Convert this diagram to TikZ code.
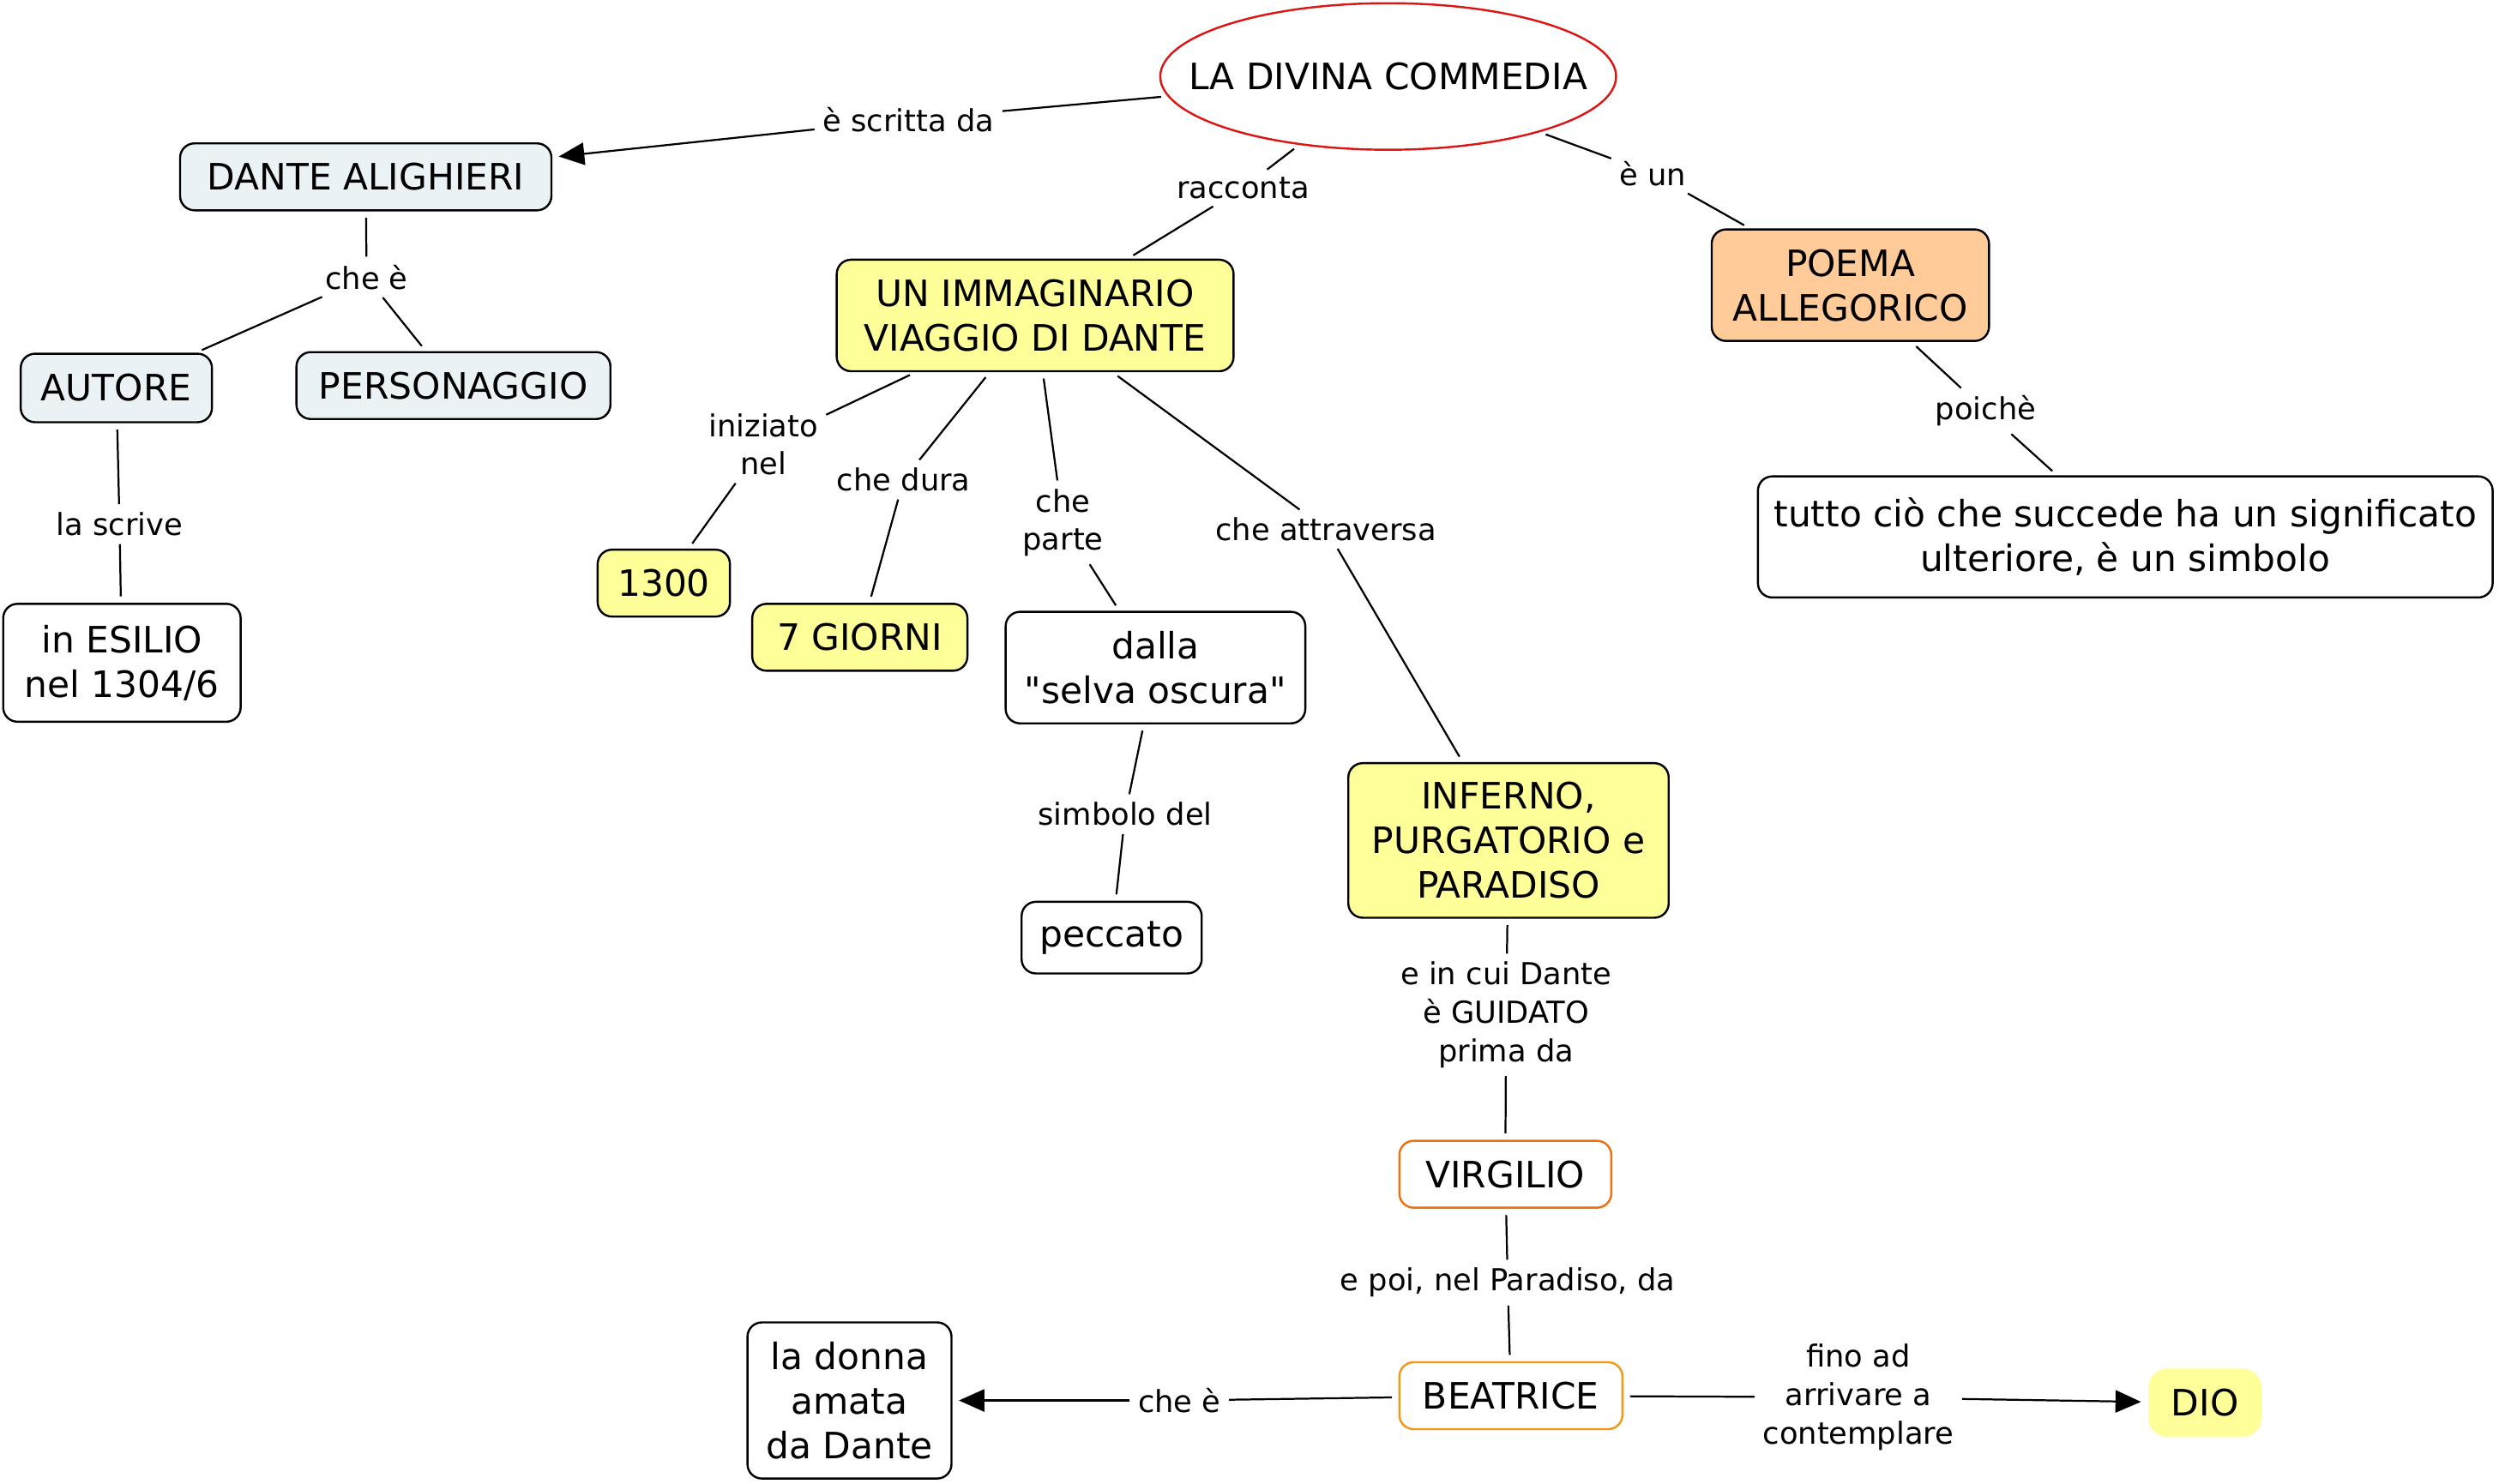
\documentclass[tikz,border=0pt]{standalone}
\usepackage{fontspec}
\setmainfont{DejaVu Sans}[Ligatures=TeXOff]
\usetikzlibrary{shapes.geometric,arrows.meta}
\definecolor{bluish}{RGB}{235,242,245}
\definecolor{yel}{RGB}{255,255,153}
\definecolor{peach}{RGB}{255,204,153}
\definecolor{orA}{RGB}{240,112,16}
\definecolor{orB}{RGB}{245,150,20}
\definecolor{redE}{RGB}{220,20,20}
\begin{document}
\begin{tikzpicture}[x=1pt,y=-1pt,
 box/.style={draw=black, line width=1.3pt, rounded corners=9pt, align=center, inner sep=0pt, font=\fontsize{22.8}{28}\selectfont},
 lbl/.style={align=center, inner sep=4pt, font=\fontsize{19}{24}\selectfont},
 n2l/.style={line width=1.2pt, shorten <=4pt, shorten >=1pt},
 l2n/.style={line width=1.2pt, shorten <=1pt, shorten >=4pt},
 arr/.style={l2n, -{Triangle[length=16pt,width=14pt]}},
]
\useasboundingbox (0,0) rectangle (1568,931);
% concepts
\node[ellipse, draw=redE, line width=1.3pt, minimum width=286pt, minimum height=92pt, inner sep=0pt, font=\fontsize{22.8}{28}\selectfont] (ldc) at (871,48) {\makebox[200pt][c]{LA DIVINA COMMEDIA}};
\node[box, fill=bluish, minimum width=233pt, minimum height=42pt] (dante) at (229.5,111) {DANTE ALIGHIERI};
\node[box, fill=bluish, minimum width=120pt, minimum height=43pt] (autore) at (73,243.5) {AUTORE};
\node[box, fill=bluish, minimum width=197pt, minimum height=42pt] (pers) at (284.5,242) {PERSONAGGIO};
\node[box, fill=white, minimum width=149pt, minimum height=74pt] (esilio) at (76.5,416) {in ESILIO\\nel 1304/6};
\node[box, fill=yel, minimum width=249pt, minimum height=70pt] (viaggio) at (649.5,198) {UN IMMAGINARIO\\VIAGGIO DI DANTE};
\node[box, fill=yel, minimum width=83pt, minimum height=42pt] (anno) at (416.5,366) {1300};
\node[box, fill=yel, minimum width=135pt, minimum height=42pt] (giorni) at (539.5,400) {7 GIORNI};
\node[box, fill=white, minimum width=188pt, minimum height=70pt] (selva) at (725,419) {dalla\\"selva oscura"};
\node[box, fill=white, minimum width=113pt, minimum height=45pt] (peccato) at (697.5,588.5) {peccato};
\node[box, fill=yel, minimum width=201pt, minimum height=97pt] (inferno) at (946.5,527.5) {INFERNO,\\PURGATORIO e\\PARADISO};
\node[box, draw=orA, fill=white, minimum width=133pt, minimum height=42pt] (virgilio) at (944.5,737) {VIRGILIO};
\node[box, draw=orB, fill=white, minimum width=140pt, minimum height=42pt] (beatrice) at (948,876) {BEATRICE};
\node[box, fill=white, minimum width=128pt, minimum height=98pt] (donna) at (533,879) {la donna\\amata\\da Dante};
\node[box, draw=none, fill=yel, rounded corners=12pt, minimum width=71pt, minimum height=43pt] (dio) at (1383.5,880.5) {DIO};
\node[box, fill=peach, minimum width=174pt, minimum height=70pt] (poema) at (1161,179) {POEMA\\ALLEGORICO};
\node[box, fill=white, minimum width=461pt, minimum height=76pt] (tutto) at (1333.5,337) {tutto ciò che succede ha un significato\\ulteriore, è un simbolo};
% linking phrases
\node[lbl] (scritta) at (570,75) {è scritta da};
\node[lbl] (cheA) at (230,174) {che è};
\node[lbl] (scrive) at (75,329) {la scrive};
\node[lbl] (racconta) at (780,118) {racconta};
\node[lbl] (eun) at (1037,109) {è un};
\node[lbl] (poiche) at (1246,258) {poichè};
\node[lbl] (iniziato) at (479,279) {iniziato\\nel};
\node[lbl] (dura) at (567,301) {che dura};
\node[lbl] (parte) at (667,328) {che\\parte};
\node[lbl] (attraversa) at (832,332) {che attraversa};
\node[lbl] (simbolo) at (706,511) {simbolo del};
\node[lbl] (guidato) at (945,637) {e in cui Dante\\è GUIDATO\\prima da};
\node[lbl] (poi) at (946,805) {e poi, nel Paradiso, da};
\node[lbl] (cheB) at (740,879) {che è};
\node[lbl] (fino) at (1166,877) {fino ad\\arrivare a\\contemplare};
% connectors
\draw[n2l] (ldc) -- (scritta);
\draw[arr] (scritta) -- (dante);
\draw[n2l] (dante) -- (cheA);
\draw[l2n] (cheA) -- (autore);
\draw[l2n] (cheA) -- (pers);
\draw[n2l] (autore) -- (scrive);
\draw[l2n] (scrive) -- (esilio);
\draw[n2l] (ldc) -- (racconta);
\draw[l2n] (racconta) -- (viaggio);
\draw[n2l] (ldc) -- (eun);
\draw[l2n] (eun) -- (poema);
\draw[n2l] (poema) -- (poiche);
\draw[l2n] (poiche) -- (tutto);
\draw[n2l] (viaggio) -- (iniziato);
\draw[l2n] (iniziato) -- (anno);
\draw[n2l] (viaggio) -- (dura);
\draw[l2n] (dura) -- (giorni);
\draw[n2l] (viaggio) -- (parte);
\draw[l2n] (parte) -- (selva);
\draw[n2l] (viaggio) -- (attraversa);
\draw[l2n] (attraversa) -- (inferno);
\draw[n2l] (selva) -- (simbolo);
\draw[l2n] (simbolo) -- (peccato);
\draw[n2l] (inferno) -- (guidato);
\draw[l2n] (guidato) -- (virgilio);
\draw[n2l] (virgilio) -- (poi);
\draw[l2n] (poi) -- (beatrice);
\draw[n2l] (beatrice) -- (cheB);
\draw[arr] (cheB) -- (donna);
\draw[n2l] (beatrice) -- (fino);
\draw[arr] (fino) -- (dio);
\end{tikzpicture}
\end{document}
